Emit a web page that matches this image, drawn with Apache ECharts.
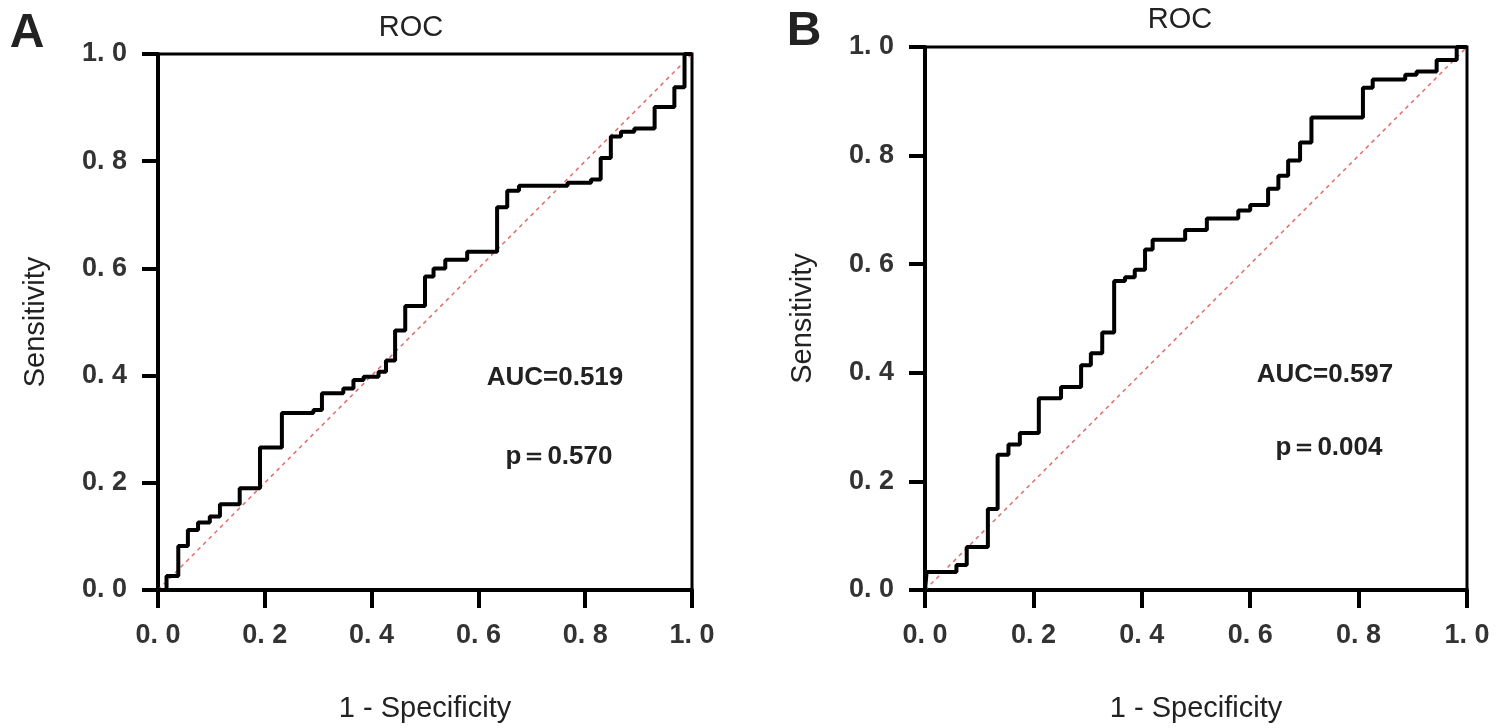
<!DOCTYPE html>
<html>
<head>
<meta charset="utf-8">
<script src="https://cdn.jsdelivr.net/npm/echarts@6/dist/echarts.min.js"></script>
<style>
html,body{margin:0;padding:0;background:#fff;}
#chart{width:1500px;height:728px;}
</style>
</head>
<body>
<div id="chart"></div>
<script>
// ---- data ----
var tickLabels = ["0. 0", "0. 2", "0. 4", "0. 6", "0. 8", "1. 0"];
var panelTitles = ["ROC", "ROC"];
var panelLetters = ["A", "B"];
var xAxisTitle = "1 - Specificity";
var yAxisTitle = "Sensitivity";
var aucTextA = "AUC=0.519";
var pTextA = "p\uFF1D0.570";
var aucTextB = "AUC=0.597";
var pTextB = "p\uFF1D0.004";

// ROC A: 1 - specificity (FPR) and sensitivity (TPR)
var fprA = [0, 0.016, 0.038, 0.056, 0.075, 0.097, 0.116, 0.153, 0.191, 0.232, 0.291, 0.307, 0.347, 0.366, 0.385, 0.413, 0.427, 0.444, 0.463, 0.500, 0.516, 0.538, 0.579, 0.635, 0.654, 0.676, 0.767, 0.811, 0.829, 0.848, 0.867, 0.892, 0.930, 0.967, 0.986, 1.0];
var tprA = [0, 0.026, 0.082, 0.112, 0.126, 0.137, 0.160, 0.190, 0.266, 0.330, 0.336, 0.367, 0.376, 0.392, 0.398, 0.407, 0.428, 0.484, 0.530, 0.585, 0.600, 0.616, 0.631, 0.714, 0.745, 0.754, 0.760, 0.766, 0.806, 0.846, 0.855, 0.861, 0.901, 0.938, 1.0, 1.0];

// ROC B
var fprB = [0, 0.003, 0.058, 0.077, 0.116, 0.134, 0.154, 0.175, 0.210, 0.251, 0.288, 0.306, 0.327, 0.349, 0.369, 0.387, 0.406, 0.420, 0.480, 0.520, 0.578, 0.600, 0.633, 0.652, 0.670, 0.692, 0.713, 0.808, 0.826, 0.886, 0.907, 0.944, 0.981, 1.0];
var tprB = [0, 0.033, 0.046, 0.079, 0.149, 0.249, 0.268, 0.289, 0.353, 0.374, 0.414, 0.436, 0.474, 0.569, 0.576, 0.590, 0.627, 0.645, 0.663, 0.684, 0.699, 0.709, 0.739, 0.763, 0.791, 0.824, 0.870, 0.925, 0.940, 0.949, 0.955, 0.976, 1.0, 1.0];

// reference diagonal
var diagX = [0, 1];
var diagY = [0, 1];

function zip(a, b) { return a.map(function (v, i) { return [v, b[i]]; }); }

var FONT = "'Liberation Sans', Arial, sans-serif";

function xAxisCfg(gi) {
  return {
    gridIndex: gi, type: 'value', min: 0, max: 1, interval: 0.2,
    name: xAxisTitle, nameLocation: 'middle', nameGap: 104,
    nameTextStyle: { fontSize: 29, color: '#222', fontFamily: FONT },
    axisLine: { lineStyle: { color: '#000', width: 4 } },
    axisTick: { show: true, length: 18, lineStyle: { color: '#000', width: 4 } },
    axisLabel: {
      formatter: function (v) { return tickLabels[Math.round(v * 5)]; },
      fontSize: 27, fontWeight: 'bold', color: '#333', margin: 32, fontFamily: FONT
    },
    splitLine: { show: false }
  };
}
function yAxisCfg(gi) {
  return {
    gridIndex: gi, type: 'value', min: 0, max: 1, interval: 0.2,
    name: yAxisTitle, nameLocation: 'middle', nameGap: 108,
    nameTextStyle: { fontSize: 29, color: '#222', fontFamily: FONT },
    axisLine: { lineStyle: { color: '#000', width: 4 } },
    axisTick: { show: true, length: 16, lineStyle: { color: '#000', width: 4 } },
    axisLabel: {
      formatter: function (v) { return tickLabels[Math.round(v * 5)]; },
      fontSize: 27, fontWeight: 'bold', color: '#333', margin: 31, fontFamily: FONT
    },
    splitLine: { show: false }
  };
}

function txt(t, x, y, size, weight) {
  return {
    type: 'text', x: x, y: y, z: 100,
    style: {
      text: t, textAlign: 'center', textVerticalAlign: 'middle',
      font: (weight || 'normal') + ' ' + size + 'px ' + FONT, fill: '#222'
    }
  };
}

var chart = echarts.init(document.getElementById('chart'), null, { renderer: 'canvas' });
chart.setOption({
  animation: false,
  backgroundColor: '#fff',
  grid: [
    { left: 158, top: 54, width: 534, height: 541, show: true, borderColor: '#000', borderWidth: 3, backgroundColor: 'transparent' },
    { left: 925, top: 47, width: 542, height: 548, show: true, borderColor: '#000', borderWidth: 3, backgroundColor: 'transparent' }
  ],
  xAxis: [xAxisCfg(0), xAxisCfg(1)],
  yAxis: [yAxisCfg(0), yAxisCfg(1)],
  series: [
    { type: 'line', xAxisIndex: 0, yAxisIndex: 0, data: zip(diagX, diagY), showSymbol: false,
      lineStyle: { color: '#e36b6b', width: 1.5, type: [4, 4] }, z: 3 },
    { type: 'line', xAxisIndex: 0, yAxisIndex: 0, data: zip(fprA, tprA), step: 'end', showSymbol: false,
      lineStyle: { color: '#000', width: 4 }, z: 4 },
    { type: 'line', xAxisIndex: 1, yAxisIndex: 1, data: zip(diagX, diagY), showSymbol: false,
      lineStyle: { color: '#e36b6b', width: 1.5, type: [4, 4] }, z: 3 },
    { type: 'line', xAxisIndex: 1, yAxisIndex: 1, data: zip(fprB, tprB), step: 'end', showSymbol: false,
      lineStyle: { color: '#000', width: 4 }, z: 4 }
  ],
  graphic: [
    txt(panelLetters[0], 27, 34, 48, 'bold'),
    txt(panelLetters[1], 804, 32, 48, 'bold'),
    txt(panelTitles[0], 411, 28, 29),
    txt(panelTitles[1], 1180, 20, 29),
    txt(aucTextA, 555, 378, 26, 'bold'),
    txt(pTextA, 559, 457, 26, 'bold'),
    txt(aucTextB, 1325, 375, 26, 'bold'),
    txt(pTextB, 1329, 448, 26, 'bold')
  ]
});
</script>
</body>
</html>
